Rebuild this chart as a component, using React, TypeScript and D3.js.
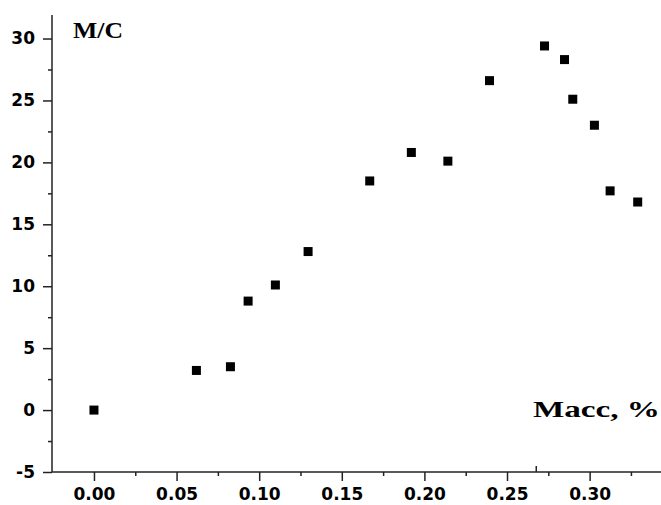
import React, { useRef, useEffect } from 'react';
import * as d3 from 'd3';

// mass fraction, % and speed, m/s
const massPct = [0.0, 0.062, 0.0826, 0.0933, 0.1098, 0.1296, 0.1669, 0.1921, 0.2142, 0.2394, 0.2727, 0.2848, 0.2898, 0.3029, 0.3124, 0.3291];
const speed = [0.0, 3.2, 3.5, 8.8, 10.1, 12.8, 18.5, 20.8, 20.1, 26.6, 29.4, 28.3, 25.1, 23.0, 17.7, 16.8];

const xTicks = [0, 0.05, 0.1, 0.15, 0.2, 0.25, 0.3];
const xMinor = [0.025, 0.075, 0.125, 0.175, 0.225, 0.275, 0.325];
const yTicks = [-5, 0, 5, 10, 15, 20, 25, 30];
const yMinor = [-2.5, 2.5, 7.5, 12.5, 17.5, 22.5, 27.5];
const markX = 0.2677;

const App = () => {
  const ref = useRef<SVGSVGElement>(null);

  useEffect(() => {
    if (!ref.current) return;
    const svg = d3.select(ref.current);
    svg.selectAll('*').remove();

    const width = 661;
    const height = 505;
    const x = d3.scaleLinear().domain([-0.0254, 0.3432]).range([52, 661]);
    const y = d3.scaleLinear().domain([-5, 31.9]).range([472, 15]);

    const tickFont = (g) => g.selectAll('text')
      .attr('font-family', '"DejaVu Sans", sans-serif')
      .attr('font-weight', 'bold')
      .attr('font-size', 17)
      .attr('fill', '#000');

    // Y axis
    const yAxis = svg.append('g').attr('transform', `translate(${x.range()[0]},0)`);
    yAxis.call(d3.axisLeft(y).tickValues(yTicks).tickSize(9).tickSizeOuter(0).tickPadding(8)
      .tickFormat(d => String(d)))
      .call(tickFont);
    yAxis.select('.domain').remove();
    svg.append('g').attr('transform', `translate(${x.range()[0]},0)`)
      .call(d3.axisLeft(y).tickValues(yMinor).tickSize(4).tickFormat(() => ''))
      .select('.domain').remove();

    // X axis
    const xAxis = svg.append('g').attr('transform', `translate(0,${y(-5)})`);
    xAxis.call(d3.axisBottom(x).tickValues(xTicks).tickSize(9).tickSizeOuter(0).tickPadding(7)
      .tickFormat(d => (+d).toFixed(2)))
      .call(tickFont);
    xAxis.select('.domain').remove();
    svg.append('g').attr('transform', `translate(0,${y(-5)})`)
      .call(d3.axisBottom(x).tickValues(xMinor).tickSize(4).tickFormat(() => ''))
      .select('.domain').remove();

    svg.selectAll('.tick line').attr('stroke', '#222').attr('stroke-width', 1.5);

    // axis lines
    svg.append('line')
      .attr('x1', x.range()[0]).attr('x2', x.range()[0])
      .attr('y1', y.range()[1]).attr('y2', y(-5))
      .attr('stroke', '#222').attr('stroke-width', 1.5);
    svg.append('line')
      .attr('x1', x.range()[0]).attr('x2', width)
      .attr('y1', y(-5)).attr('y2', y(-5))
      .attr('stroke', '#222').attr('stroke-width', 1.5);

    // stray upward tick
    svg.append('line')
      .attr('x1', x(markX)).attr('x2', x(markX))
      .attr('y1', y(-5)).attr('y2', y(-5) - 6)
      .attr('stroke', '#222').attr('stroke-width', 1.5);

    // points
    const s = 9;
    svg.selectAll('rect.pt')
      .data(massPct.map((m, i) => [m, speed[i]]))
      .enter()
      .append('rect')
      .attr('class', 'pt')
      .attr('x', d => x(d[0]) - s / 2)
      .attr('y', d => y(d[1]) - s / 2)
      .attr('width', s)
      .attr('height', s)
      .attr('fill', '#000');

    // axis titles
    svg.append('text')
      .attr('x', 73).attr('y', 38)
      .attr('font-family', '"Liberation Serif", serif')
      .attr('font-weight', 'bold')
      .attr('font-size', 24)
      .attr('textLength', 50)
      .attr('lengthAdjust', 'spacingAndGlyphs')
      .text('М/С');
    svg.append('text')
      .attr('x', 533).attr('y', 417)
      .attr('font-family', '"Liberation Serif", serif')
      .attr('font-weight', 'bold')
      .attr('font-size', 24)
      .attr('textLength', 127)
      .attr('lengthAdjust', 'spacingAndGlyphs')
      .text('Масс, %');

    svg.attr('width', width).attr('height', height);
  }, []);

  return (
    <div style={{ position: 'absolute', left: 0, top: 0, background: '#fff' }}>
      <svg ref={ref} width={661} height={505} style={{ display: 'block' }} />
    </div>
  );
};

export default App;
